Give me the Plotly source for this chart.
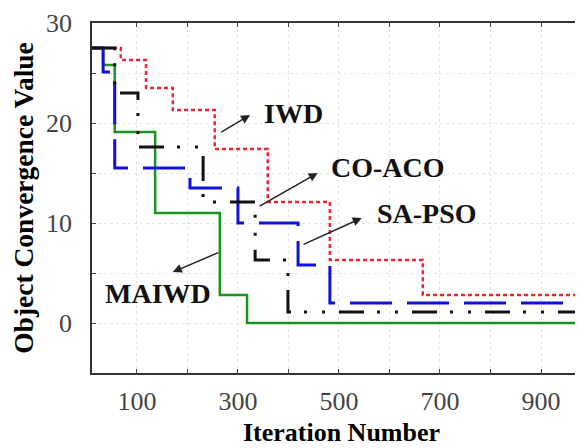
import plotly.graph_objects as go

# ---- data (step curves: breakpoints and levels) ----
maiwd_x = [11, 33, 56, 136, 264, 318, 999]
maiwd_y = [27.5, 25.8, 19.1, 11.0, 2.8, 0.0, 0.0]

iwd_x = [11, 68, 118, 171, 254, 359, 482, 666, 999]
iwd_y = [27.5, 26.3, 23.5, 21.3, 17.4, 12.1, 6.3, 2.8, 2.8]

sapso_x = [11, 33, 56, 205, 300, 419, 482, 999]
sapso_y = [27.5, 25.1, 15.5, 13.5, 10.0, 5.8, 2.0, 2.0]

coaco_x = [11, 56, 102, 231, 334, 399, 999]
coaco_y = [27.5, 23.0, 17.6, 12.1, 6.3, 1.1, 1.1]

x_tickvals = [100, 200, 300, 400, 500, 600, 700, 800, 900]
x_ticktext = ["100", "", "300", "", "500", "", "700", "", "900"]
y_tickvals = [-5, 0, 5, 10, 15, 20, 25, 30]
y_ticktext = ["", "0", "", "10", "", "20", "", "30"]

SERIF = "Liberation Serif, Times New Roman, serif"

fig = go.Figure()
fig.add_trace(go.Scatter(x=maiwd_x, y=maiwd_y, mode="lines", line_shape="hv",
                         name="MAIWD", line=dict(color="#1c931c", width=2.5)))
fig.add_trace(go.Scatter(x=iwd_x, y=iwd_y, mode="lines", line_shape="hv",
                         name="IWD", line=dict(color="#ee2430", width=2.5, dash="4px,3px")))
fig.add_trace(go.Scatter(x=sapso_x, y=sapso_y, mode="lines", line_shape="hv",
                         name="SA-PSO", line=dict(color="#1010e0", width=3, dash="42px,15px")))
fig.add_trace(go.Scatter(x=coaco_x, y=coaco_y, mode="lines", line_shape="hv",
                         name="CO-ACO", line=dict(color="#111111", width=3,
                                                  dash="25px,13px,3px,15px,3px,14px")))

# annotations with arrows: (label, text x, text y, head x, head y, tail x, tail y)
labels = [
    ("IWD", 409, 21.0, 324, 20.8, 264, 19.0),
    ("CO-ACO", 597, 15.6, 458, 15.0, 340, 11.6),
    ("SA-PSO", 674, 11.0, 545, 10.5, 427, 7.8),
    ("MAIWD", 142, 3.0, 171, 5.1, 264, 7.1),
]
for txt, tx, ty, hx, hy, axx, ayy in labels:
    fig.add_annotation(x=tx, y=ty, text="<b>%s</b>" % txt, showarrow=False,
                       font=dict(family=SERIF, size=28, color="#111"))
    fig.add_annotation(x=hx, y=hy, ax=axx, ay=ayy, xref="x", yref="y",
                       axref="x", ayref="y", text="", showarrow=True,
                       arrowhead=2, arrowsize=1.2, arrowwidth=1.5, arrowcolor="#222")

fig.update_layout(
    width=583, height=448,
    margin=dict(l=84, r=0, t=15, b=83),
    paper_bgcolor="white", plot_bgcolor="white",
    showlegend=False,
    font=dict(family=SERIF),
)
fig.update_xaxes(
    range=[11, 999], tickvals=x_tickvals, ticktext=x_ticktext,
    ticks="inside", ticklen=4, tickcolor="#444",
    showline=True, linecolor="#333", linewidth=1.5, mirror="ticks",
    showgrid=True, gridcolor="#e4e4e4", griddash="dot", gridwidth=1,
    zeroline=False, ticklabelstandoff=4,
    tickfont=dict(family=SERIF, size=26, color="#444"),
    title=dict(text="<b>Iteration Number</b>", font=dict(family=SERIF, size=26, color="#000"),
               standoff=8),
)
fig.update_yaxes(
    range=[-5, 30], tickvals=y_tickvals, ticktext=y_ticktext,
    ticks="inside", ticklen=4, tickcolor="#444",
    showline=True, linecolor="#333", linewidth=1.5,
    showgrid=True, gridcolor="#e4e4e4", griddash="dot", gridwidth=1,
    zeroline=False, ticklabelstandoff=13,
    tickfont=dict(family=SERIF, size=26, color="#444"),
    title=dict(text="<b>Object Convergence Value</b>", font=dict(family=SERIF, size=27.5, color="#000"),
               standoff=8),
)

fig.write_html("out.html")
